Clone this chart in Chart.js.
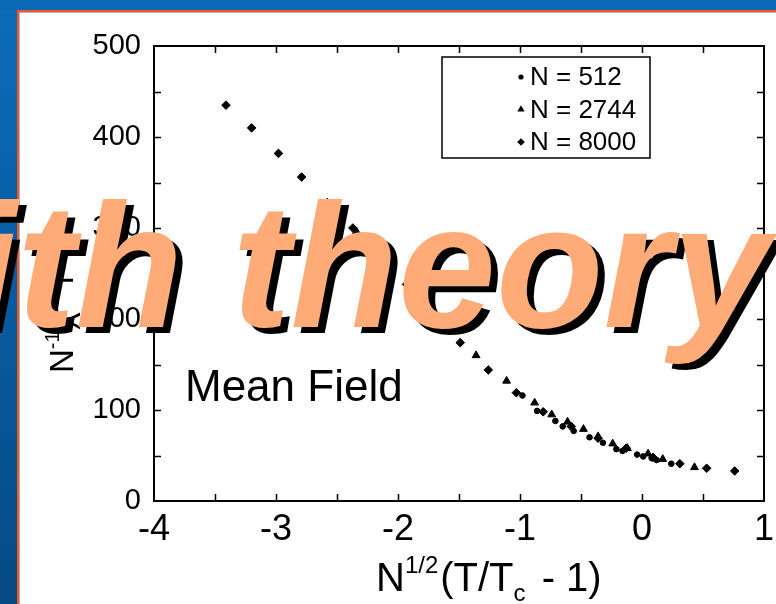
<!DOCTYPE html>
<html>
<head>
<meta charset="utf-8">
<script src="https://cdn.jsdelivr.net/npm/chart.js@4/dist/chart.umd.min.js"></script>
<style>
  html, body { margin: 0; padding: 0; background: #fff; }
  #wrap { width: 776px; height: 604px; overflow: hidden; }
  canvas { display: block; }
</style>
</head>
<body>
<div id="wrap"><canvas id="chart" width="776" height="604"></canvas></div>
<script>
// scaled susceptibility vs scaled temperature, three system sizes
const seriesLabels = ['N = 512', 'N = 2744', 'N = 8000'];
const seriesStyles = ['circle', 'triangle', 'rectRot'];
const seriesRadius = [2.8, 4.5, 4.3];

const n512X = [-0.98, -0.86, -0.71, -0.65, -0.56, -0.43, -0.32, -0.21, -0.16, -0.04, 0.01, 0.08, 0.12, 0.24];
const n512Y = [116, 99, 88, 82, 77, 70, 64, 57, 55, 51, 49, 47, 45, 41];

const n2744X = [-2.34, -2.09, -1.84, -1.60, -1.36, -1.11, -0.88, -0.74, -0.61, -0.48, -0.36, -0.24, -0.12, 0.05, 0.17, 0.43];
const n2744Y = [296, 262, 226, 192, 160, 132, 108, 95, 87, 79, 71, 63, 58, 52, 46, 37];

const n8000X = [-3.41, -3.20, -2.98, -2.79, -2.58, -2.37, -2.15, -1.93, -1.71, -1.49, -1.26, -1.03, -0.81, -0.58, -0.36, -0.13, 0.09, 0.31, 0.53, 0.76];
const n8000Y = [435, 410, 382, 356, 328, 300, 270, 238, 206, 174, 144, 119, 98, 82, 69, 58, 48, 41, 36, 33];

const xMin = -4, xMax = 1, xStep = 1, xMinorStep = 0.5;
const yMin = 0, yMax = 500, yStep = 100, yMinorStep = 50;

const FONT = '"Liberation Sans", Arial, Helvetica, sans-serif';

function toPoints(xs, ys) {
  return xs.map((x, i) => ({ x: x, y: ys[i] }));
}

// small marker shapes for the legend box
function drawMarker(ctx, style, r, x, y) {
  ctx.beginPath();
  if (style === 'circle') {
    ctx.arc(x, y, r, 0, Math.PI * 2);
  } else if (style === 'triangle') {
    ctx.moveTo(x, y - r);
    ctx.lineTo(x + r * 0.866, y + r * 0.5);
    ctx.lineTo(x - r * 0.866, y + r * 0.5);
    ctx.closePath();
  } else {
    ctx.moveTo(x - r, y);
    ctx.lineTo(x, y - r);
    ctx.lineTo(x + r, y);
    ctx.lineTo(x, y + r);
    ctx.closePath();
  }
  ctx.fill();
}

// text with superscript / subscript pieces, drawn left to right from (x, y)
function drawRich(ctx, parts, x, y) {
  let cx = x;
  parts.forEach(p => {
    ctx.font = p.size + 'px ' + FONT;
    ctx.fillText(p.text, cx, y + (p.dy || 0));
    cx += ctx.measureText(p.text).width + (p.gap || 0);
  });
}

// slide frame behind the plot
const framePlugin = {
  id: 'frame',
  beforeDraw(chart) {
    const ctx = chart.ctx;
    const W = chart.width, H = chart.height;
    ctx.save();
    const g = ctx.createLinearGradient(0, 0, 0, H);
    g.addColorStop(0, '#0b6cbb');
    g.addColorStop(1, '#064a84');
    ctx.fillStyle = g;
    ctx.fillRect(0, 0, W, H);
    ctx.fillStyle = '#0a69b7';
    ctx.fillRect(0, 0, W, 11);
    ctx.fillStyle = '#f05a1e';
    ctx.fillRect(17, 10, W - 17, 2.5);
    ctx.fillRect(17, 10, 2.5, H - 10);
    ctx.fillStyle = '#ffffff';
    ctx.fillRect(19.5, 12.5, W, H);
    ctx.restore();
  }
};

// plot box with inward tick marks on all four sides
const boxPlugin = {
  id: 'box',
  beforeDatasetsDraw(chart) {
    const ctx = chart.ctx;
    const a = chart.chartArea;
    const sx = chart.scales.x, sy = chart.scales.y;
    ctx.save();
    ctx.strokeStyle = '#000';
    ctx.lineWidth = 2;
    ctx.strokeRect(a.left, a.top, a.right - a.left, a.bottom - a.top);
    ctx.lineWidth = 1.5;
    ctx.beginPath();
    for (let v = xMin + xMinorStep; v < xMax; v += xMinorStep) {
      const px = Math.round(sx.getPixelForValue(v)) + 0.5;
      ctx.moveTo(px, a.bottom); ctx.lineTo(px, a.bottom - 7);
      ctx.moveTo(px, a.top); ctx.lineTo(px, a.top + 7);
    }
    for (let v = yMin + yMinorStep; v < yMax; v += yMinorStep) {
      const py = Math.round(sy.getPixelForValue(v)) + 0.5;
      ctx.moveTo(a.left, py); ctx.lineTo(a.left + 7, py);
      ctx.moveTo(a.right, py); ctx.lineTo(a.right - 7, py);
    }
    ctx.stroke();
    ctx.restore();
  }
};

// legend box, axis titles, annotation and the overlaid headline
const textPlugin = {
  id: 'texts',
  afterDraw(chart) {
    const ctx = chart.ctx;
    const a = chart.chartArea;
    ctx.save();
    ctx.fillStyle = '#000';
    ctx.strokeStyle = '#000';

    // legend
    const bx = 442, by = a.top + 11, bw = 208, bh = 101;
    ctx.lineWidth = 1.5;
    ctx.strokeRect(bx, by, bw, bh);
    ctx.textBaseline = 'middle';
    const legendR = [2.6, 4.2, 3.8];
    seriesLabels.forEach((lbl, i) => {
      const ry = by + 20 + i * 32.5;
      drawMarker(ctx, seriesStyles[i], legendR[i], bx + 79, ry);
      ctx.font = '26px ' + FONT;
      ctx.fillText(lbl, bx + 88, ry + 1);
    });

    // annotation
    ctx.textBaseline = 'alphabetic';
    ctx.font = '44px ' + FONT;
    ctx.fillText('Mean Field', 185, 401);

    // x axis title
    drawRich(ctx, [
      { text: 'N', size: 40 },
      { text: '1/2', size: 24, dy: -18, gap: 2 },
      { text: '(T/T', size: 40 },
      { text: 'c', size: 24, dy: 10, gap: 5 },
      { text: ' - 1)', size: 40 }
    ], 376, 591);

    // y axis title, rotated
    ctx.save();
    ctx.translate(73, 373);
    ctx.rotate(-Math.PI / 2);
    drawRich(ctx, [
      { text: 'N', size: 33 },
      { text: '-1', size: 20, dy: -14, gap: 2 },
      { text: '\u03C7', size: 33 },
      { text: '-1', size: 20, dy: -14, gap: 4 },
      { text: 'T', size: 33 }
    ], 0, 0);
    ctx.restore();

    // headline overlay with hard drop shadow
    ctx.font = 'italic bold 176px ' + FONT;
    const lead = ctx.measureText('with ').width;
    const x0 = 232 - lead;
    ctx.fillStyle = '#000';
    ctx.fillText('with theory', x0 + 7, 333);
    ctx.fillStyle = '#ffab78';
    ctx.fillText('with theory', x0, 327);
    ctx.restore();
  }
};

new Chart(document.getElementById('chart'), {
  type: 'scatter',
  data: {
    datasets: [
      { label: seriesLabels[0], data: toPoints(n512X, n512Y) },
      { label: seriesLabels[1], data: toPoints(n2744X, n2744Y) },
      { label: seriesLabels[2], data: toPoints(n8000X, n8000Y) }
    ].map((d, i) => Object.assign(d, {
      pointStyle: seriesStyles[i],
      pointRadius: seriesRadius[i],
      backgroundColor: '#000',
      borderColor: '#000',
      borderWidth: 1,
      showLine: false
    }))
  },
  options: {
    responsive: false,
    animation: false,
    events: [],
    layout: { padding: { left: 0, right: 12, top: 46, bottom: 0 } },
    plugins: {
      legend: { display: false },
      tooltip: { enabled: false }
    },
    scales: {
      x: {
        type: 'linear',
        min: xMin,
        max: xMax,
        afterFit(scale) {
          scale.height = 103;
          scale.paddingLeft = 0;
          scale.paddingRight = 0;
        },
        ticks: {
          stepSize: xStep,
          color: '#000',
          padding: 7,
          font: { family: FONT, size: 36 }
        },
        grid: { drawOnChartArea: false, drawTicks: false },
        border: { display: false }
      },
      y: {
        type: 'linear',
        min: yMin,
        max: yMax,
        afterFit(scale) {
          scale.width = 154;
          scale.paddingTop = 0;
          scale.paddingBottom = 0;
        },
        ticks: {
          stepSize: yStep,
          color: '#000',
          padding: 13,
          font: { family: FONT, size: 29 }
        },
        grid: { drawOnChartArea: false, drawTicks: false },
        border: { display: false }
      }
    }
  },
  plugins: [framePlugin, boxPlugin, textPlugin]
});
</script>
</body>
</html>
